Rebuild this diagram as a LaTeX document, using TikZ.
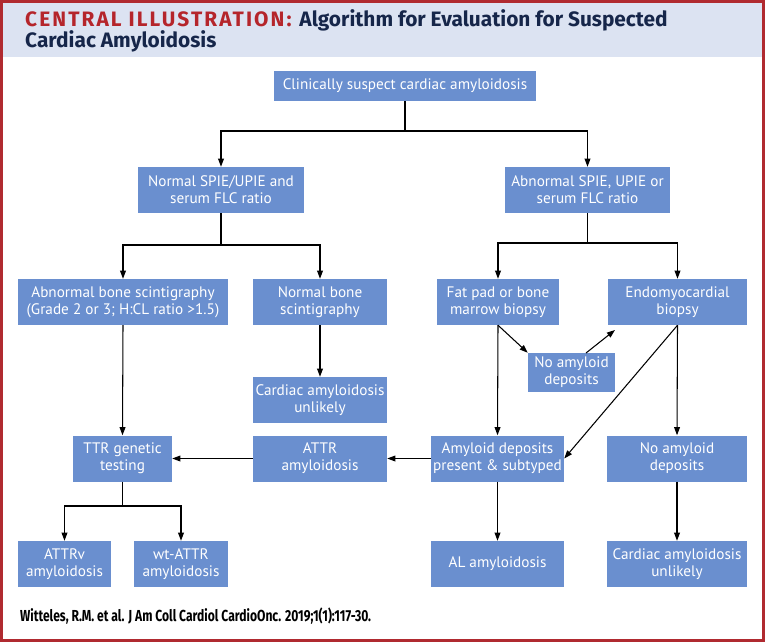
\documentclass[tikz,border=0pt]{standalone}
\usepackage{fontspec}
\setsansfont{PT Sans}
\newfontfamily\headfont{Fira Sans}
\newfontfamily\capsfont[LetterSpace=10]{Fira Sans}
\newfontfamily\citefont[FakeStretch=0.76]{Fira Sans}
\usetikzlibrary{arrows.meta}
\definecolor{boxblue}{HTML}{6A8FCF}
\definecolor{frame}{HTML}{B02A30}
\definecolor{headbg}{HTML}{DCE3F2}
\definecolor{navy}{HTML}{16264A}
\definecolor{redtxt}{HTML}{B5252B}

\tikzset{
  flowbox/.style={fill=boxblue,text=white,align=center,inner sep=0pt,
    minimum height=1.38cm,font={\sffamily\fontsize{13pt}{14.4pt}\selectfont}},
  arr/.style={-{Triangle[length=7pt,width=5pt]},line width=0.9pt},
  link/.style={line width=0.9pt}
}

\begin{document}
\begin{tikzpicture}[x=0.03cm,y=-0.03cm]
  \useasboundingbox (0,0) rectangle (765,642);
  \fill[white] (0,0) rectangle (765,642);
  \fill[headbg] (3,3) rectangle (762,57);
  \draw[frame,line width=2.56pt] (1.5,1.5) rectangle (763.5,640.5);

  % title
  \node[anchor=base west,inner sep=0pt,font={\fontsize{17.8pt}{20pt}\selectfont\bfseries}]
    (title1) at (25,26) {{\capsfont\color{redtxt}CENTRAL ILLUSTRATION:}
      {\headfont\color{navy}Algorithm for Evaluation for Suspected}};
  \node[anchor=base west,inner sep=0pt,text=navy,
    font={\headfont\fontsize{17.8pt}{20pt}\selectfont\bfseries}]
    (title2) at (25,47) {Cardiac Amyloidosis};

  % boxes
  \node[flowbox,minimum width=7.86cm,minimum height=0.9cm] (suspect) at (405,86)
    {Clinically suspect cardiac amyloidosis};
  \node[flowbox,minimum width=4.98cm] (normSPIE) at (221,190)
    {Normal SPIE/UPIE and\\serum FLC ratio};
  \node[flowbox,minimum width=4.95cm] (abnSPIE) at (587.5,190)
    {Abnormal SPIE, UPIE or\\serum FLC ratio};
  \node[flowbox,minimum width=6.3cm] (abnBone) at (123,302)
    {Abnormal bone scintigraphy\\(Grade 2 or 3; H:CL ratio >1.5)};
  \node[flowbox,minimum width=4.02cm] (normBone) at (320,302)
    {Normal bone\\scintigraphy};
  \node[flowbox,minimum width=3.66cm] (fatpad) at (498,302)
    {Fat pad or bone\\marrow biopsy};
  \node[flowbox,minimum width=4.17cm] (endo) at (677.5,302)
    {Endomyocardial\\biopsy};
  \node[flowbox,minimum width=2.61cm,minimum height=1.17cm] (noDepMid) at (571.5,372.5)
    {No amyloid\\deposits};
  \node[flowbox,minimum width=4.02cm] (unlikelyMid) at (320,400)
    {Cardiac amyloidosis\\unlikely};
  \node[flowbox,minimum width=2.97cm] (ttr) at (122.5,458.5)
    {TTR genetic\\testing};
  \node[flowbox,minimum width=4.02cm] (attr) at (320,458.5)
    {ATTR\\amyloidosis};
  \node[flowbox,minimum width=3.99cm] (amyDep) at (497.5,458.5)
    {Amyloid deposits\\present \& subtyped};
  \node[flowbox,minimum width=4.2cm] (noDepR) at (677,458.5)
    {No amyloid\\deposits};
  \node[flowbox,minimum width=2.79cm] (attrv) at (64.5,564)
    {ATTRv\\amyloidosis};
  \node[flowbox,minimum width=2.82cm] (wtattr) at (181,564)
    {wt-ATTR\\amyloidosis};
  \node[flowbox,minimum width=3.99cm] (al) at (497.5,564)
    {AL amyloidosis};
  \node[flowbox,minimum width=4.2cm] (unlikelyR) at (677,564)
    {Cardiac amyloidosis\\unlikely};

  % branch points
  \coordinate (jTop) at (405,131);
  \coordinate (jNorm) at (221,245);
  \coordinate (jAbn) at (587.5,243);
  \coordinate (jTtr) at (122.5,506);
  \coordinate (ndOut) at (586,353);
  \coordinate (endoIn) at (615,330);

  % connectors
  \draw[link] (suspect.south) -- (jTop);
  \draw[arr] (jTop) -| (normSPIE.north);
  \draw[arr] (jTop) -| (abnSPIE.north);
  \draw[link] (normSPIE.south) -- (jNorm);
  \draw[arr] (jNorm) -| (abnBone.north);
  \draw[arr] (jNorm) -| (normBone.north);
  \draw[link] (abnSPIE.south) -- (jAbn);
  \draw[arr] (jAbn) -| (fatpad.north);
  \draw[arr] (jAbn) -| (endo.north);
  \draw[arr] (abnBone.south) -- (ttr.north);
  \draw[arr] (normBone.south) -- (unlikelyMid.north);
  \draw[arr] (fatpad.south) -- (noDepMid.north west);
  \draw[arr] (ndOut) -- (endoIn);
  \draw[arr] (fatpad.south) -- (amyDep.north);
  \draw[arr] (endo.south) -- (amyDep.east);
  \draw[arr] (endo.south) -- (noDepR.north);
  \draw[arr] (amyDep.west) -- (attr.east);
  \draw[arr] (attr.west) -- (ttr.east);
  \draw[link] (ttr.south) -- (jTtr);
  \draw[arr] (jTtr) -| (attrv.north);
  \draw[arr] (jTtr) -| (wtattr.north);
  \draw[arr] (amyDep.south) -- (al.north);
  \draw[arr] (noDepR.south) -- (unlikelyR.north);

  % citation
  \node[anchor=base west,inner sep=0pt,font={\citefont\fontsize{13.6pt}{15pt}\selectfont\bfseries}]
    (cite) at (20,621) {Witteles, R.M. et al. J Am Coll Cardiol CardioOnc. 2019;1(1):117-30.};
\end{tikzpicture}
\end{document}
